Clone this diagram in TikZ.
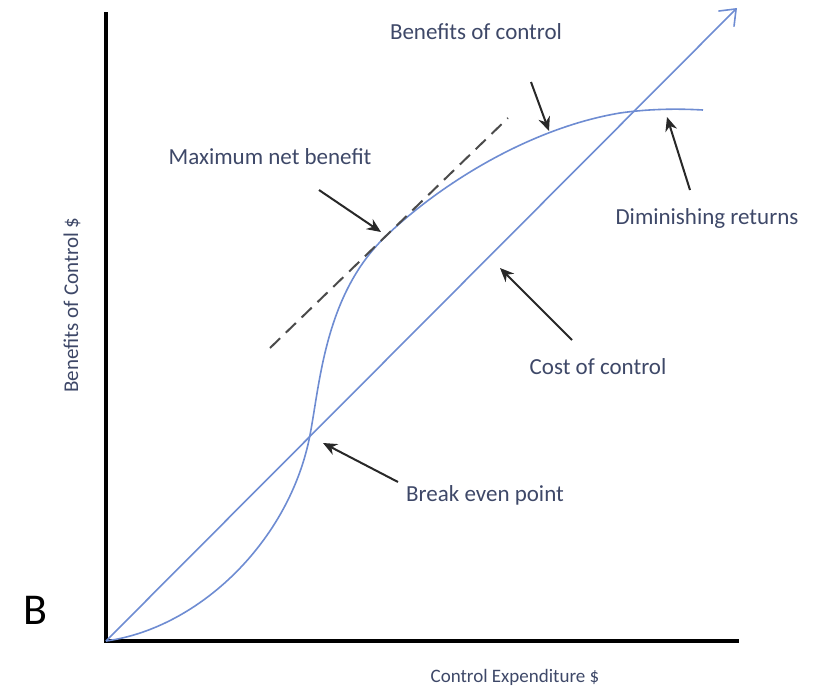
\documentclass[tikz,border=0pt]{standalone}
\usepackage{fontspec}
\setmainfont{Carlito}
\usetikzlibrary{arrows.meta}
\definecolor{curveblue}{RGB}{110,140,210}
\definecolor{labeltext}{RGB}{62,72,104}
\definecolor{arrowgray}{RGB}{40,40,40}
\definecolor{dashgray}{RGB}{75,75,75}
\begin{document}
\begin{tikzpicture}[x=1pt,y=-1pt,
  axis/.style={line width=3.2pt,black},
  curve/.style={line width=1.6pt,curveblue},
  callout/.style={line width=2pt,arrowgray,-{Stealth[length=14pt,width=12pt]}},
  tangent/.style={line width=2pt,dashgray,dash pattern=on 14pt off 8pt},
  lbl/.style={font=\fontsize{23}{27}\selectfont,text=labeltext,inner sep=0pt},
  axlbl/.style={font=\fontsize{19}{23}\selectfont,text=labeltext,inner sep=0pt}]
\path[use as bounding box] (0,0) rectangle (815,691);
% axes
\coordinate (O) at (106,641);
\coordinate (ytop) at (106,12);
\coordinate (xend) at (739,641);
\draw[axis,line join=miter] (ytop) -- (O) -- (xend);
% cost of control line
\coordinate (costend) at (737,8);
\draw[curve,-{Straight Barb[length=14pt,width=22pt,line width=1.6pt]}] (O) -- (costend);
% benefits curve
\coordinate (be) at (310,435);
\coordinate (mx) at (385,237);
\coordinate (dr) at (620,113);
\coordinate (bend) at (703,110);
\draw[curve] (O) .. controls (200,628) and (290,540) .. (be)
  .. controls (320,383) and (325,295) .. (mx)
  .. controls (440,184) and (530,128) .. (dr)
  .. controls (655,108) and (685,109) .. (bend);
% tangent
\coordinate (dA) at (270,348);
\coordinate (dB) at (508,118);
\draw[tangent] (dA) -- (dB);
% labels
\node[lbl] (lbBen) at (476,32) {Benefits of control};
\node[lbl] (lbMax) at (270,157) {Maximum net benefit};
\node[lbl] (lbDim) at (707,218) {Diminishing returns};
\node[lbl] (lbCost) at (598,367) {Cost of control};
\node[lbl] (lbBreak) at (485,495) {Break even point};
\node[axlbl] (lbX) at (515,677) {Control Expenditure \$};
\node[axlbl,font=\fontsize{21}{25}\selectfont,rotate=90] (lbY) at (72,305) {Benefits of Control \$};
\node[font=\fontsize{44}{48}\selectfont,inner sep=0pt] (lbB) at (35,610) {B};
% callout arrows
\coordinate (aBen1) at (531,82);  \coordinate (aBen2) at (549,131);
\coordinate (aMax1) at (319,190); \coordinate (aMax2) at (381,232);
\coordinate (aDim1) at (690,190); \coordinate (aDim2) at (667,117);
\coordinate (aCost1) at (572,340); \coordinate (aCost2) at (500,268);
\coordinate (aBr1) at (398,482); \coordinate (aBr2) at (323,443);
\draw[callout] (aBen1) -- (aBen2);
\draw[callout] (aMax1) -- (aMax2);
\draw[callout] (aDim1) -- (aDim2);
\draw[callout] (aCost1) -- (aCost2);
\draw[callout] (aBr1) -- (aBr2);
\end{tikzpicture}
\end{document}
